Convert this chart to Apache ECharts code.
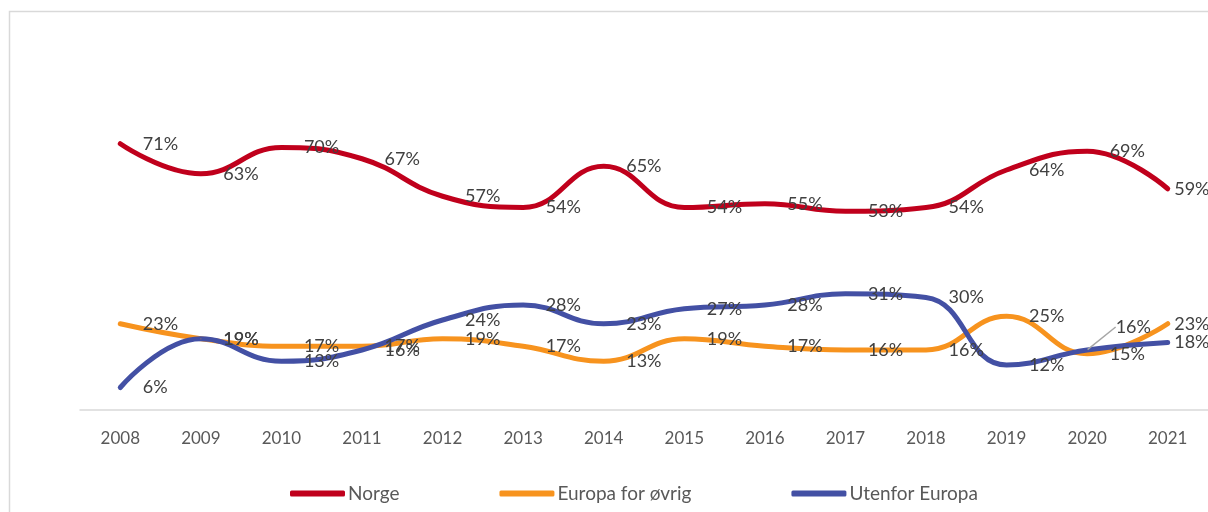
<!DOCTYPE html>
<html>
<head>
<meta charset="utf-8">
<script src="https://cdn.jsdelivr.net/npm/echarts@6/dist/echarts.min.js"></script>
<style>
  html, body { margin: 0; padding: 0; background: #fff; }
  #chart { width: 1208px; height: 512px; }
</style>
</head>
<body>
<div id="chart"></div>
<script>
// data
var years = ['2008','2009','2010','2011','2012','2013','2014','2015','2016','2017','2018','2019','2020','2021'];
var norge = [71, 63, 70, 67, 57, 54, 65, 54, 55, 53, 54, 64, 69, 59];
var europa = [23, 19, 17, 17, 19, 17, 13, 19, 17, 16, 16, 25, 15, 23];
var utenfor = [6, 19, 13, 16, 24, 28, 23, 27, 28, 31, 30, 12, 16, 18];

var chart = echarts.init(document.getElementById('chart'));
var font = 'Lato, "Open Sans", sans-serif';
var last = years.length - 1;

function makeSeries(name, values, color, moved) {
  return {
    name: name,
    type: 'line',
    smooth: 0.45,
    symbol: 'circle',
    symbolSize: 1,
    showSymbol: true,
    lineStyle: { width: 5, color: color, cap: 'round' },
    itemStyle: { color: color },
    label: {
      show: true,
      position: 'right',
      distance: 22,
      color: '#404040',
      fontSize: 18,
      fontFamily: font,
      formatter: '{c}%'
    },
    labelLine: { show: false },
    labelLayout: function (p) {
      if (moved && p.dataIndex === moved.index) {
        return { dx: moved.dx, dy: moved.dy, hideOverlap: false };
      }
      if (p.dataIndex === last) {
        return { dx: -16, hideOverlap: false };
      }
      return { hideOverlap: false };
    },
    data: values.map(function (v, i) {
      if (moved && i === moved.index) {
        return { value: v, labelLine: { show: true, lineStyle: { color: '#a6a6a6', width: 1.5 } } };
      }
      return v;
    }),
    z: 2
  };
}

chart.setOption({
  animation: false,
  graphic: [{
    type: 'rect',
    shape: { x: 9.5, y: 11.5, width: 1300, height: 600 },
    style: { fill: 'none', stroke: '#d9d9d9', lineWidth: 1.5 },
    silent: true
  }],
  grid: { left: 80, top: 35, width: 1130, bottom: 102 },
  legend: {
    bottom: 4,
    left: 285,
    itemWidth: 55,
    itemHeight: 6,
    itemGap: 100,
    icon: 'roundRect',
    textStyle: { color: '#595959', fontSize: 19, fontFamily: font, padding: [0, 0, 0, -2] },
    data: ['Norge', 'Europa for øvrig', 'Utenfor Europa']
  },
  xAxis: {
    type: 'category',
    data: years,
    boundaryGap: true,
    axisLine: { lineStyle: { color: '#d9d9d9', width: 1.5 } },
    axisTick: { show: false },
    axisLabel: { color: '#595959', fontSize: 17, fontFamily: font, margin: 20 }
  },
  yAxis: {
    type: 'value',
    min: 0,
    max: 100,
    show: false,
    splitLine: { show: false }
  },
  series: [
    makeSeries('Norge', norge, '#C0001C'),
    makeSeries('Europa for øvrig', europa, '#F7931E'),
    makeSeries('Utenfor Europa', utenfor, '#4350A4', { index: 12, dx: 6, dy: -23 })
  ]
});
</script>
</body>
</html>
